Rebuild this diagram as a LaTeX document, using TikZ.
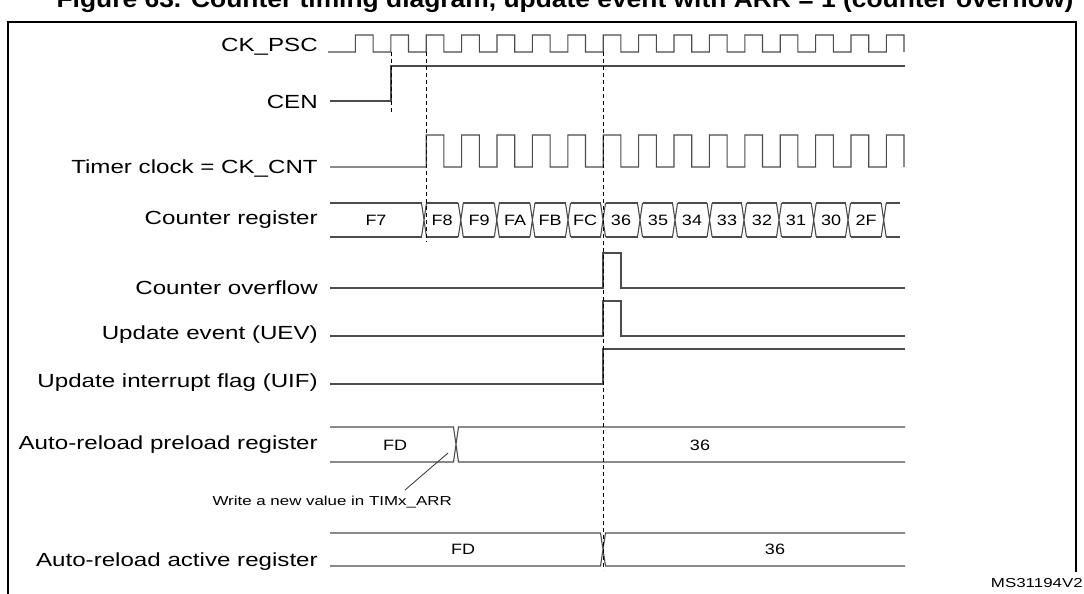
\documentclass[tikz,border=0pt]{standalone}
\usepackage{fontspec}
\setmainfont{Liberation Sans}
\begin{document}
\begin{tikzpicture}[x=1pt,y=-1pt,
  sig/.style={draw=black!70,line width=1.1pt},
  lab/.style={anchor=east,font=\fontsize{19}{19}\selectfont,inner sep=0pt,xscale=1.27,transform shape},
  val/.style={font=\fontsize{15}{15}\selectfont,inner sep=0pt,xscale=1.2,transform shape},
  sm/.style={font=\fontsize{13}{13}\selectfont,inner sep=0pt,anchor=east,xscale=1.3,transform shape},
  dsh/.style={draw=black,dashed,line width=0.8pt,dash pattern=on 4pt off 3pt}]
\useasboundingbox (0,0) rectangle (1084,594);
\fill[white] (0,0) rectangle (1084,594);
\node[font=\bfseries\fontsize{24}{24}\selectfont,inner sep=0pt,xscale=1.1,transform shape] (title) at (565,1) {Figure 63. Counter timing diagram, update event with ARR = 1 (counter overflow)};
\draw[line width=1.6pt] (8,600) -- (8,22) -- (1076,22) -- (1076,572);
% labels
\node[lab] (l1) at (318,47) {CK\_PSC};
\node[lab] (l2) at (318,102) {CEN};
\node[lab] (l3) at (318,169) {Timer clock = CK\_CNT};
\node[lab] (l4) at (318,220) {Counter register};
\node[lab] (l5) at (318,288) {Counter overflow};
\node[lab] (l6) at (318,335) {Update event (UEV)};
\node[lab] (l7) at (318,383) {Update interrupt flag (UIF)};
\node[lab] (l8) at (318,445) {Auto-reload preload register};
\node[lab] (l9) at (318,562) {Auto-reload active register};
% CK_PSC
\draw[sig] (328,52) -- (355.4,52)
  \foreach \k in {0,...,14}{ -- ({355.4+35.4*\k},35) -- ({373.1+35.4*\k},35) -- ({373.1+35.4*\k},52) -- ({390.8+35.4*\k},52)}
  -- (886.4,35) -- (904,35) -- (904,52);
% CEN
\draw[sig] (330,101) -- (391,101) -- (391,66) -- (905,66);
% CK_CNT
\draw[sig] (330,167) -- (426.2,167)
  \foreach \k in {0,...,12}{ -- ({426.2+35.4*\k},135) -- ({443.9+35.4*\k},135) -- ({443.9+35.4*\k},167) -- ({461.6+35.4*\k},167)}
  -- (886.4,135) -- (904,135) -- (904,167);
% counter register bus
\def\tp{203}\def\bt{237}
\draw[sig] (330,\tp) -- (422,\tp) (330,\bt) -- (422,\bt);
\foreach \a/\b in {424/460.8,460.8/496.8,496.8/532.4,532.4/568,568/603,603/640,640/675,675/709.6,709.6/744,744/779,779/813.7,813.7/848,848/883.7,883.7/902}{
  \draw[sig] (\a+2.5,\tp) -- (\b-2.5,\tp) (\a+2.5,\bt) -- (\b-2.5,\bt);
  \draw[sig] (\a-2.5,\tp) -- (\a+2.5,\bt) (\a-2.5,\bt) -- (\a+2.5,\tp);}
\foreach \x/\t [count=\i] in {376/F7,442/F8,479/F9,515/FA,550/FB,585/FC,621/36,658/35,692/34,727/33,762/32,796/31,831/30,866/2F}
  \node[val] (c\i) at (\x,220) {\t};
% overflow / UEV
\draw[sig] (330,288) -- (603,288) -- (603,253) -- (621,253) -- (621,288) -- (905,288);
\draw[sig] (330,336) -- (603,336) -- (603,301) -- (621,301) -- (621,336) -- (905,336);
% UIF
\draw[sig] (330,384) -- (603,384) -- (603,349) -- (905,349);
% preload
\draw[sig] (330,427) -- (453.5,427) -- (458.5,462) -- (905,462)
           (330,462) -- (453.5,462) -- (458.5,427) -- (905,427);
\node[val] (p1) at (395,445) {FD};
\node[val] (p2) at (700,445) {36};
\coordinate (wa) at (448,453);
\node[sm] (wtxt) at (452,502) {Write a new value in TIMx\_ARR};
\draw[black!80,line width=0.8pt] (405,490) -- (wa);
% active
\draw[sig] (330,533) -- (600.5,533) -- (605.5,566) -- (905,566)
           (330,566) -- (600.5,566) -- (605.5,533) -- (905,533);
\node[val] (a1) at (463,549) {FD};
\node[val] (a2) at (775,549) {36};
% dashed
\draw[dsh] (391,52) -- (391,112);
\draw[dsh] (426,52) -- (426,242);
\draw[dsh] (603,52) -- (603,570);
\node[sm] (ms) at (1083,583) {MS31194V2};
\end{tikzpicture}
\end{document}
